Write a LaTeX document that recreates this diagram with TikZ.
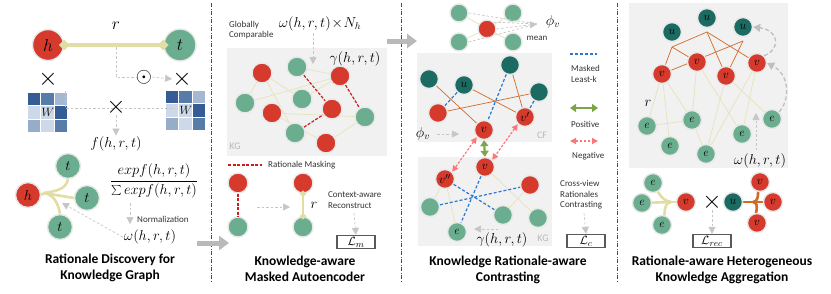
\documentclass[tikz,border=0pt]{standalone}
\usepackage{fontspec}
\setsansfont{Carlito}
\usetikzlibrary{arrows.meta,shapes.geometric}
\definecolor{nred}{RGB}{213,58,45}
\definecolor{ngreen}{RGB}{107,174,143}
\definecolor{nteal}{RGB}{28,107,98}
\definecolor{beigeT}{RGB}{226,220,165}
\definecolor{beigel}{RGB}{232,227,182}
\definecolor{orl}{RGB}{210,105,40}
\definecolor{bluel}{RGB}{40,120,210}
\definecolor{redl}{RGB}{200,30,30}
\definecolor{pinkc}{RGB}{250,120,120}
\definecolor{garr}{RGB}{125,165,70}
\definecolor{kgfill}{RGB}{241,241,241}
\definecolor{mA}{RGB}{53,92,148}
\definecolor{mB}{RGB}{88,124,170}
\definecolor{mC}{RGB}{165,183,209}
\definecolor{mD}{RGB}{205,217,232}
\definecolor{mE}{RGB}{150,172,201}
\newcommand\mysmall{\sffamily\fontsize{9}{10.5}\selectfont}
\newcommand\mytitle{\sffamily\bfseries\fontsize{13.5}{16.5}\selectfont}
\newcommand\mymath{\fontsize{14}{16}\selectfont}
\newcommand\mynode{\fontsize{12.5}{14}\selectfont}
\begin{document}
\begin{tikzpicture}[x=1pt,y=-1pt,
  nd/.style={circle,inner sep=0pt,minimum size=#1,draw=black!9,line width=1.4pt,font=\mynode},
  nd/.default=19pt,
  rn/.style={nd=#1,fill=nred}, rn/.default=19pt,
  gn/.style={nd=#1,fill=ngreen}, gn/.default=19pt,
  tn/.style={nd=#1,fill=nteal}, tn/.default=19pt,
  bl/.style={draw=beigel,line width=0.7pt},
  bt/.style={draw=beigeT,line width=2.6pt},
  ol/.style={draw=orl,line width=0.7pt},
  ot/.style={draw=orl,line width=2.6pt},
  bd/.style={draw=bluel,line width=1.2pt,dash pattern=on 3pt off 2pt},
  rd/.style={draw=redl,line width=1.2pt,dash pattern=on 3pt off 1.5pt},
  gl/.style={draw=gray!45,line width=0.7pt,dash pattern=on 2.5pt off 2pt},
  ga/.style={gl,-{Triangle[length=7pt,width=7pt]}},
  gc/.style={draw=gray!50,line width=1.3pt,dash pattern=on 4pt off 2.5pt,-{Triangle[length=7pt,width=8pt]}},
  pk/.style={draw=pinkc,line width=1.2pt,dash pattern=on 2.5pt off 1.5pt,{Triangle[length=6pt,width=6pt]}-{Triangle[length=6pt,width=6pt]}},
  pg/.style={draw=garr,line width=2.2pt,{Triangle[length=6pt,width=8pt]}-{Triangle[length=6pt,width=8pt]}},
  lbl/.style={font=\mysmall,align=left,text=black!80,inner sep=0pt},
  ttl/.style={font=\mytitle,align=center},
  mth/.style={font=\mymath,inner sep=1pt},
  lossb/.style={draw=black!65,line width=1.3pt,minimum width=38pt,minimum height=13pt,inner sep=0pt,fill=white,font=\mynode},
  blk/.style={line width=5pt,draw=gray!55,-{Triangle[length=10pt,width=14pt]}},
  sep/.style={draw=black!70,line width=0.8pt,dash pattern=on 4pt off 1.5pt on 1pt off 1.5pt},
  dmd/.style={diamond,fill=beigeT,inner sep=0pt,minimum size=9pt},
  kgl/.style={font=\sffamily\fontsize{10}{12}\selectfont,text=gray!55,inner sep=0pt},
  crs/.style={font=\fontsize{24}{24}\selectfont,inner sep=0pt}
]
\useasboundingbox (0,0) rectangle (831,293);

% separators
\draw[sep] (211,3) -- (211,282);
\draw[sep] (401,3) -- (401,282);
\draw[sep] (617,3) -- (617,282);
% block arrows
\coordinate (ba1s) at (197,243); \coordinate (ba1e) at (229,243);
\coordinate (ba2s) at (387,41); \coordinate (ba2e) at (417,41);
\draw[blk] (ba1s) -- (ba1e);
\draw[blk] (ba2s) -- (ba2e);

%%%%%%%% PANEL 1
\node[rn=31pt,font=\fontsize{17}{17}\selectfont] (h) at (48,45) {$h$};
\node[gn=32pt,font=\fontsize{17}{17}\selectfont] (t) at (180,45) {$t$};
\draw[beigeT,line width=4pt] (h.east) -- (t.west);
\node[dmd,minimum size=11pt] (dh) at (h.east) {};
\node[dmd,minimum size=11pt] (dt) at (t.west) {};
\node[font=\fontsize{18}{18}\selectfont] (rl) at (116,26) {$r$};
\node[crs] (x1) at (48,79) {$\times$};
\node[crs] (x2) at (182,79) {$\times$};
\node[crs,font=\fontsize{20}{20}\selectfont] (od) at (144,77) {$\odot$};
\coordinate (bc) at (116,47);
\coordinate (bcd) at (116,77);
\draw[gl] (bc) -- (bcd) -- (od.west);
\draw[ga] (od.east) -- (x2.west);
% matrices
\foreach \cc [count=\k from 0] in {mA,mB,mC,mD,mD,mA,mE,mD,mB} {
  \pgfmathtruncatemacro\ci{mod(\k,3)}
  \pgfmathtruncatemacro\ri{div(\k,3)}
  \fill[\cc] ({28+\ci*13.3},{93+\ri*13.3}) rectangle ++(12.3,12.3);
  \fill[\cc] ({166+\ci*13.3},{91+\ri*13.3}) rectangle ++(12.3,12.3);
}
\node[font=\fontsize{13}{13}\selectfont] (w1) at (48,112) {$W$};
\node[font=\fontsize{13}{13}\selectfont] (w2) at (186,110) {$W$};
\coordinate (m1a) at (65,91); \coordinate (m1b) at (65,108); \coordinate (m2a) at (175,108);
\draw[gl] (m1a) -- (m1b) -- (m2a);
\node[crs] (x3) at (116,107) {$\times$};
\node[mth] (f1) at (116,144) {$f(h,r,t)$};
\draw[ga] (x3.south) -- (f1.north);
% star
\coordinate (J1) at (44,193);
\node[rn=25pt,font=\fontsize{14}{14}\selectfont] (hs) at (28,195) {$h$};
\node[gn=25pt,font=\fontsize{14}{14}\selectfont] (t1) at (68,166) {$t$};
\node[gn=25pt,font=\fontsize{14}{14}\selectfont] (t2) at (87,198) {$t$};
\node[gn=25pt,font=\fontsize{14}{14}\selectfont] (t3) at (60,227) {$t$};
\draw[bt] (hs.east) -- (J1);
\draw[bt] (J1) to[out=10,in=-100] (t1.south);
\draw[bt] (J1) -- (t2.west);
\draw[bt] (J1) to[out=-10,in=100] (t3.north);
\node[font=\fontsize{14}{16}\selectfont,inner sep=0pt] (frac) at (154,181) {$\displaystyle\frac{expf(h,r,t)}{\textstyle\sum expf(h,r,t)}$};
\node[mth] (om1) at (150,237) {$\omega(h,r,t)$};
\coordinate (nA) at (130,203); \coordinate (nB) at (130,224);
\draw[ga] (nA) -- (nB);
\node[lbl,anchor=west] (norm) at (137,219) {Normalization};
\coordinate (aT) at (62,203);
\draw[ga] (om1.west) -- (aT);
\node[ttl] (title1) at (110,268) {Rationale Discovery for\\Knowledge Graph};

%%%%%%%% PANEL 2
\node[lbl,anchor=west] (glob) at (229,30) {Globally\\Comparable};
\node[mth] (omN) at (320,24) {$\omega(h,r,t)\!\times\! N_h$};
\fill[kgfill] (227,48) rectangle (387,156);
\node[kgl] (kg1) at (235,146) {KG};
\node[mth] (gam1) at (355,59) {$\gamma(h,r,t)$};
\coordinate (gA) at (313,33); \coordinate (gB) at (313,64);
\draw[ga] (gA) -- (gB);
\coordinate (pR1) at (262,73); \coordinate (pG1) at (297,67); \coordinate (pR2) at (340,76);
\coordinate (pG2) at (245,103); \coordinate (pG3) at (302,99); \coordinate (pR3) at (272,113);
\coordinate (pR4) at (332,109); \coordinate (pG4) at (365,117); \coordinate (pG5) at (295,133);
\coordinate (pR5) at (326,143);
\draw[bl] (pR1) -- (pG2); \draw[bl] (pG2) -- (pR2); \draw[bl] (pR1) -- (pG5);
\draw[bl] (pR1) -- (pG3); \draw[bl] (pG3) -- (pR2); \draw[bl] (pR3) -- (pG4);
\draw[bl] (pR3) -- (pR5); \draw[bl] (pR5) -- (pG4); \draw[bl] (pG1) -- (pR2);
\node[rn=20pt] (R1) at (pR1) {}; \node[gn=20pt] (G1) at (pG1) {}; \node[rn=20pt] (R2) at (pR2) {};
\node[gn=20pt] (G2) at (pG2) {}; \node[gn=20pt] (G3) at (pG3) {}; \node[rn=20pt] (R3) at (pR3) {};
\node[rn=20pt] (R4) at (pR4) {}; \node[gn=20pt] (G4) at (pG4) {}; \node[gn=20pt] (G5) at (pG5) {};
\node[rn=20pt] (R5) at (pR5) {};
\draw[rd] (G1) -- (R4);
\draw[rd] (R2) -- (G4);
\draw[rd] (G5) -- (R4);
\coordinate (lgA) at (228,165); \coordinate (lgB) at (262,165);
\draw[rd] (lgA) -- (lgB);
\node[lbl,anchor=west] (rmask) at (268,165) {Rationale Masking};
\node[rn=20pt] (bR1) at (238,183) {};
\node[gn=20pt] (bG1) at (238,227) {};
\draw[rd] (bR1) -- (bG1);
\node[rn=20pt] (bR2) at (303,183) {};
\node[gn=20pt] (bG2) at (303,227) {};
\draw[beigeT,line width=2.6pt] (bR2.south) -- (bG2.north);
\node[dmd,minimum size=7pt] (d3) at (bR2.south) {};
\node[dmd,minimum size=7pt] (d4) at (bG2.north) {};
\node[font=\fontsize{15}{15}\selectfont] (r2) at (314,205) {$r$};
\coordinate (aa1) at (257,207); \coordinate (aa2) at (290,207);
\draw[ga] (aa1) -- (aa2);
\node[lbl,anchor=west] (car) at (328,200) {Context-aware\\Reconstruct};
\node[lossb] (Lm) at (356,242) {$\mathcal{L}_m$};
\coordinate (ca1) at (354,213);
\draw[ga] (ca1) -- (Lm.north);
\node[ttl] (title2) at (305,269) {Knowledge-aware\\Masked Autoencoder};

%%%%%%%% PANEL 3
\coordinate (mtip) at (537,24);
\node[gn=18pt] (sg1) at (459,13) {};
\node[gn=18pt] (sg2) at (513,13) {};
\node[gn=18pt] (sg3) at (459,42) {};
\node[gn=18pt] (sg4) at (513,42) {};
\node[rn=18pt] (sr) at (487,29) {};
\draw[bl] (sr) -- (sg1); \draw[bl] (sr) -- (sg2); \draw[bl] (sr) -- (sg3); \draw[bl] (sr) -- (sg4);
\draw[gl] (sg1.east) -- (mtip); \draw[gl] (sg3.east) -- (mtip);
\draw[gl] (sr.north east) -- (mtip);
\draw[ga] (sr.east) -- (mtip);
\node[mth] (phi1) at (553,22) {$\phi_v$};
\node[lbl] (mean) at (537,38) {mean};
% CF box
\fill[kgfill] (417,53) rectangle (552,142);
\node[kgl] (cf) at (542,135) {CF};
\coordinate (cD1c) at (429,79); \coordinate (cuc) at (464,85); \coordinate (cD3c) at (510,65);
\coordinate (cD4c) at (539,92); \coordinate (cR1c) at (438,113); \coordinate (cvc) at (484,130);
\coordinate (cv1c) at (525,117);
\draw[ol] (cD1c) -- (cvc); \draw[ol] (cuc) -- (cv1c); \draw[ol] (cR1c) -- (cD4c); \draw[ol] (cD3c) -- (cv1c);
\node[tn] (cD1) at (cD1c) {};
\node[tn] (cu) at (cuc) {$u$};
\node[tn] (cD3) at (cD3c) {};
\node[tn] (cD4) at (cD4c) {};
\node[rn] (cR1) at (cR1c) {};
\node[rn] (cv) at (cvc) {$v$};
\node[rn] (cv1) at (cv1c) {$v'$};
\draw[bd] (cu) -- (cR1); \draw[bd] (cD3) -- (cv); \draw[bd] (cD4) -- (cv1);
\node[mth] (phi2) at (423,134) {$\phi_v$};
\coordinate (pa1) at (437,134); \coordinate (pa2) at (459,134);
\draw[ga] (pa1) -- (pa2);
% KG box
\fill[kgfill] (418,157) rectangle (552,246);
\node[kgl] (kg2) at (543,238) {KG};
\coordinate (kv) at (485,167); \coordinate (kv2) at (445,179); \coordinate (kR) at (530,185);
\coordinate (kG1) at (430,207); \coordinate (kG2) at (503,215); \coordinate (kG3) at (538,218);
\coordinate (ke) at (457,232);
\draw[bl] (kv) -- (kG3); \draw[bl] (kv2) -- (kG1); \draw[bl] (kv2) -- (ke); \draw[bl] (kR) -- (kG2);
\node[rn] (kvn) at (kv) {$v$};
\node[rn] (kv2n) at (kv2) {$v''$};
\node[rn] (kRn) at (kR) {};
\node[gn] (kG1n) at (kG1) {};
\node[gn] (kG2n) at (kG2) {};
\node[gn] (kG3n) at (kG3) {};
\node[gn] (ken) at (ke) {$e$};
\draw[bd] (kv2n) -- (kG2n); \draw[bd] (kG1n) -- (kRn); \draw[bd] (kvn) -- (ken);
\node[mth] (gam2) at (502,240) {$\gamma(h,r,t)$};
\coordinate (ga1) at (498,229); \coordinate (ga2) at (474,229);
\draw[ga] (ga1) -- (ga2);
% contrast arrows
\draw[pg] (cv.south) -- (kvn.north);
\draw[pk] (cv.south west) -- (kv2n.north east);
\draw[pk] (cv1.south west) -- (kvn.north east);
% legend
\coordinate (l1a) at (570,54); \coordinate (l1b) at (597,54);
\draw[bd] (l1a) -- (l1b);
\node[lbl,anchor=west] (mlk) at (571,74) {Masked\\Least-k};
\coordinate (l2a) at (570,108); \coordinate (l2b) at (598,108);
\draw[pg] (l2a) -- (l2b);
\node[lbl,anchor=west] (pos) at (571,124) {Positive};
\coordinate (l3a) at (570,141); \coordinate (l3b) at (598,141);
\draw[pk] (l3a) -- (l3b);
\node[lbl,anchor=west] (neg) at (572,156) {Negative};
\node[lbl,anchor=west] (cvr) at (560,195) {Cross-view\\Rationales\\Contrasting};
\node[lossb] (Lc) at (586,241) {$\mathcal{L}_c$};
\coordinate (cva) at (584,213);
\draw[ga] (cva) -- (Lc.north);
\node[ttl] (title3) at (508,270) {Knowledge Rationale-aware\\Contrasting};

%%%%%%%% PANEL 4
\fill[kgfill] (629,3) rectangle (788,168);
\coordinate (qu1) at (672,32); \coordinate (qu2) at (707,18); \coordinate (qu3) at (743,27);
\coordinate (qv1) at (662,74); \coordinate (qv2) at (697,62); \coordinate (qv3) at (726,76); \coordinate (qv4) at (757,63);
\coordinate (qe1) at (647,126); \coordinate (qe2) at (692,120); \coordinate (qe3) at (742,134);
\coordinate (qe4) at (772,119); \coordinate (qe5) at (670,146); \coordinate (qe6) at (706,154);
\coordinate (oA) at (707,32); \coordinate (oB) at (743,41); \coordinate (oC) at (672,47);
\draw[ol] (oA) -- (oC) -- (qv1); \draw[ol] (oC) -- (qv2);
\draw[ol] (oA) -- (qv3); \draw[ol] (oA) -- (qv4);
\draw[ol] (oB) -- (qv1); \draw[ol] (oB) -- (qv3);
\draw[bl] (qv1) -- (qe1); \draw[bl] (qv1) -- (qe5); \draw[bl] (qv1) -- (qe2);
\draw[bl] (qv2) -- (qe2); \draw[bl] (qv2) -- (qe3);
\draw[bl] (qv3) -- (qe6); \draw[bl] (qv3) -- (qe4);
\draw[bl] (qv4) -- (qe6); \draw[bl] (qv4) -- (qe3);
\draw[bl] (qe1) -- (qe2); \draw[bl] (qe2) -- (qe6);
\node[tn=19pt] (u1) at (qu1) {$u$};
\node[tn=19pt] (u2) at (qu2) {$u$};
\node[tn=19pt] (u3) at (qu3) {$u$};
\node[rn=19pt] (v1) at (qv1) {$v$};
\node[rn=19pt] (v2) at (qv2) {$v$};
\node[rn=19pt] (v3) at (qv3) {$v$};
\node[rn=19pt] (v4) at (qv4) {$v$};
\node[gn=19pt] (e1) at (qe1) {$e$};
\node[gn=19pt] (e2) at (qe2) {$e$};
\node[gn=19pt] (e3) at (qe3) {$e$};
\node[gn=19pt] (e4) at (qe4) {$e$};
\node[gn=19pt] (e5) at (qe5) {$e$};
\node[gn=19pt] (e6) at (qe6) {$e$};
\node[font=\fontsize{15}{15}\selectfont] (r4) at (648,103) {$r$};
\node[mth] (om4) at (760,161) {$\omega(h,r,t)$};
\coordinate (wa) at (756,150); \coordinate (wb) at (756,113);
\draw[ga] (wa) -- (wb);
\draw[gc] (e4.north east) .. controls (790,100) and (790,75) .. (v4.east);
\draw[gc] (v4.north east) .. controls (782,48) and (778,30) .. (u3.east);
% bottom aggregation
\coordinate (J4) at (671,202); \coordinate (J5) at (753,202);
\coordinate (pe1) at (653,183); \coordinate (pe2) at (642,203); \coordinate (pe3) at (662,225);
\coordinate (pv) at (686,202);
\coordinate (pu) at (733,202); \coordinate (pv1) at (760,182); \coordinate (pv2) at (773,202); \coordinate (pv3) at (757,223);
\draw[bt] (J4) -- (pv);
\draw[bt] (J4) to[out=170,in=-60] (pe1);
\draw[bt] (J4) -- (pe2);
\draw[bt] (J4) to[out=190,in=60] (pe3);
\node[gn=19pt] (be1) at (pe1) {$e$};
\node[gn=19pt] (be2) at (pe2) {$e$};
\node[gn=19pt] (be3) at (pe3) {$e$};
\node[rn=19pt] (bv) at (pv) {$v$};
\draw[ot] (pu) -- (J5);
\draw[ot] (J5) to[out=10,in=-120] (pv1);
\draw[ot] (J5) -- (pv2);
\draw[ot] (J5) to[out=-10,in=120] (pv3);
\node[tn=19pt] (bu) at (pu) {$u$};
\node[rn=19pt] (bv1) at (pv1) {$v$};
\node[rn=19pt] (bv2) at (pv2) {$v$};
\node[rn=19pt] (bv3) at (pv3) {$v$};
\node[crs] (x4) at (712,202) {$\times$};
\node[lossb] (Lr) at (712,241) {$\mathcal{L}_{rec}$};
\draw[ga] (x4.south) -- (Lr.north);
\node[ttl] (title4) at (722,270) {Rationale-aware Heterogeneous\\Knowledge Aggregation};
\end{tikzpicture}
\end{document}
